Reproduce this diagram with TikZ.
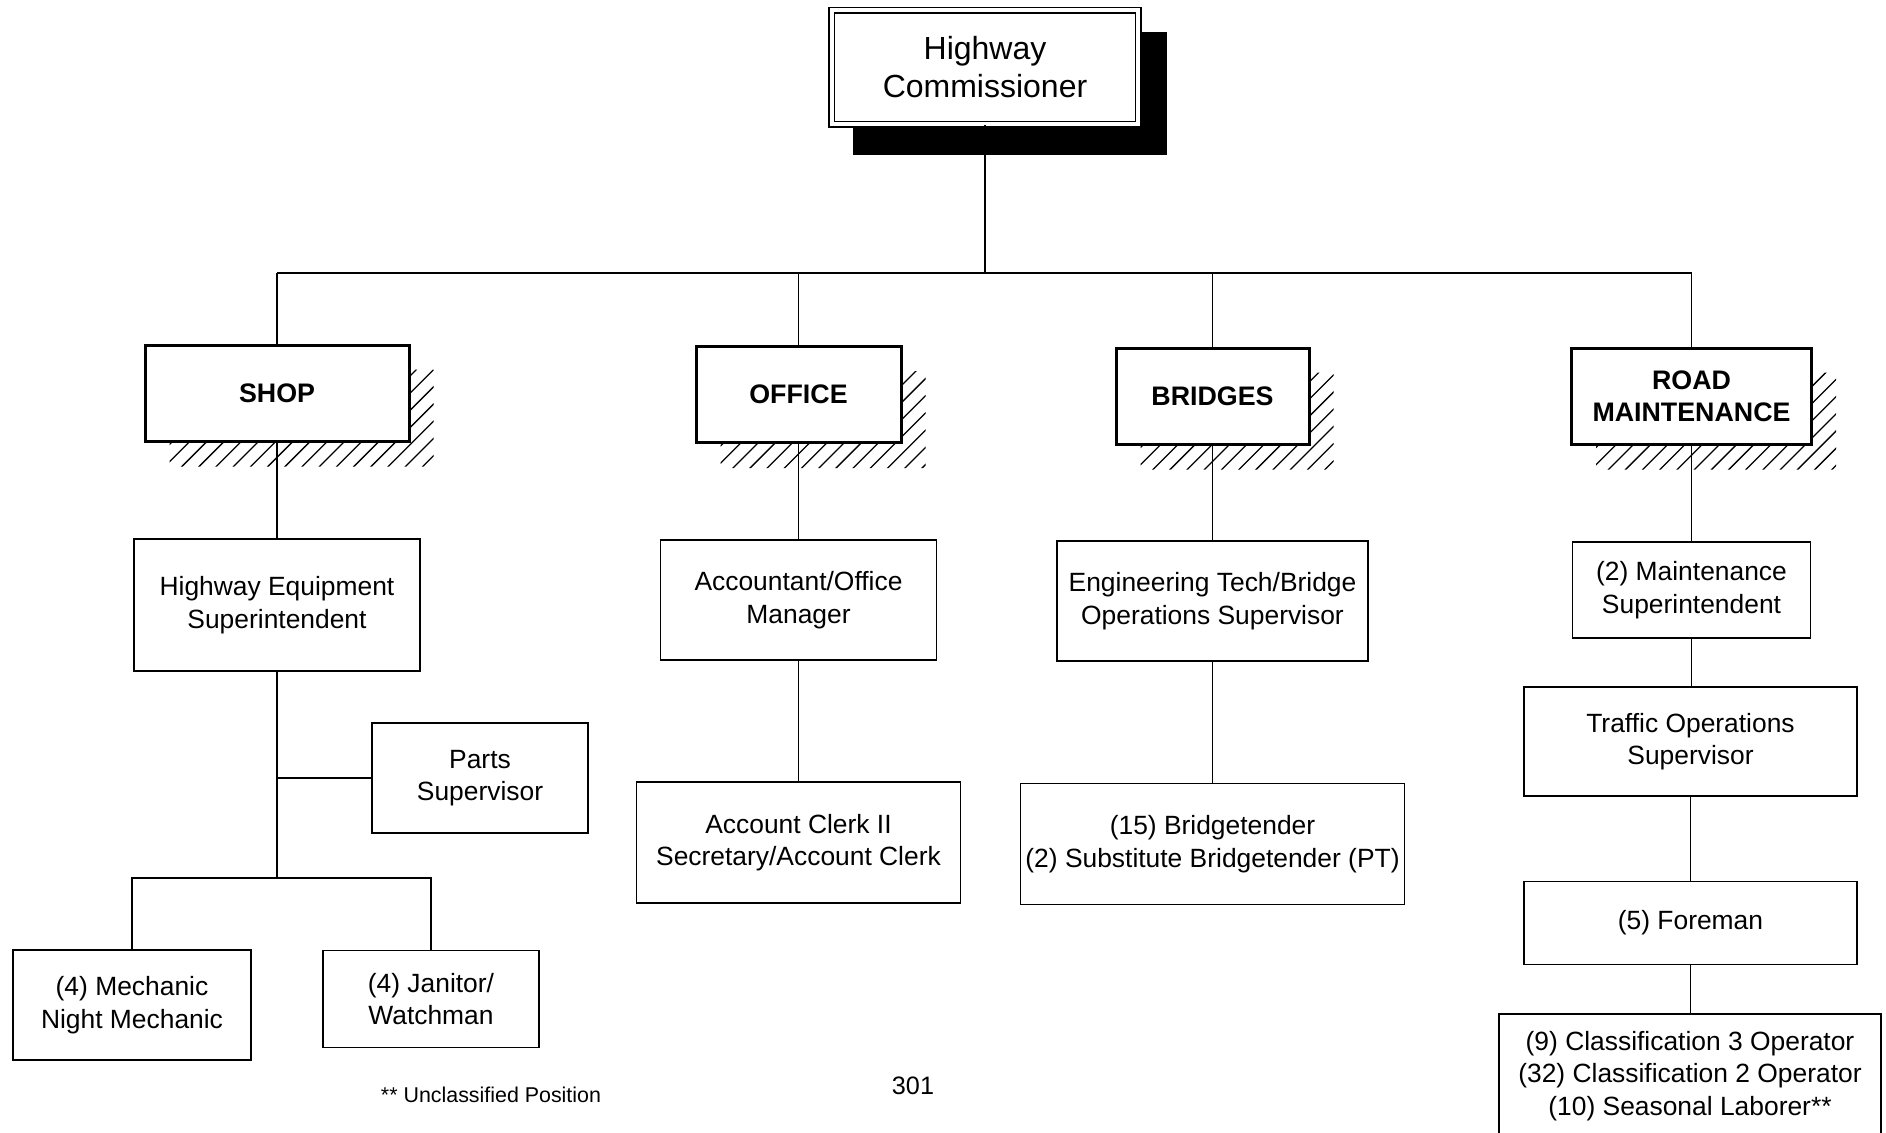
\documentclass[tikz,border=0pt]{standalone}
\usepackage{fontspec}
\setmainfont{Liberation Sans}
\usetikzlibrary{calc}
\newcommand{\boxfont}{\fontsize{13.2}{16.2}\selectfont}
\newcommand{\divfont}{\fontsize{13.4}{16.2}\selectfont\bfseries}
\newcommand{\commfont}{\fontsize{16}{19}\selectfont}
\newcommand{\hatchit}[1]{%
  \begin{scope}
    \clip ([xshift=13pt]#1.south west) -- (#1.south east) -- ([yshift=-13pt]#1.north east)
      -- ([xshift=11.5pt,yshift=-13pt]#1.north east) -- ([xshift=11.5pt,yshift=-12pt]#1.south east)
      -- ([xshift=13pt,yshift=-12pt]#1.south west) -- cycle;
    \foreach \h in {0,8.6,...,200}{\draw[hatchline] ([xshift=\h pt,yshift=-14pt]#1.south west) -- ++(80pt,80pt);}
  \end{scope}}
\begin{document}
\begin{tikzpicture}[x=0.5pt,y=-0.5pt,
  box/.style={draw,line width=0.9pt,fill=white,align=center,font=\boxfont,inner sep=0pt},
  divbox/.style={draw,line width=1.5pt,fill=white,align=center,font=\divfont,inner sep=0pt,minimum height=48pt},
  conn/.style={line width=0.7pt},
  hatchline/.style={line width=0.65pt}]
\useasboundingbox (0,0) rectangle (1886,1132);
\clip (0,0) rectangle (1886,1132);

% commissioner with shadow
\fill[black] (853,32) rectangle (1167,155);
\node[draw,double,double distance=2pt,line width=0.8pt,fill=white,align=center,font=\commfont,
      minimum width=153.4pt,minimum height=57pt,inner sep=0pt] (comm) at (985,67.4) {Highway\\Commissioner};

% divisions
\node[divbox,minimum width=132pt] (shop) at (277,393) {SHOP};
\node[divbox,minimum width=102.5pt] (office) at (798.5,394.5) {OFFICE};
\node[divbox,minimum width=96.5pt] (bridges) at (1212.5,396) {BRIDGES};
\node[divbox,minimum width=120pt] (road) at (1691.5,396) {ROAD\\MAINTENANCE};
\hatchit{shop}
\hatchit{office}
\hatchit{bridges}
\hatchit{road}

% second row
\node[box,minimum width=143pt,minimum height=66pt] (hes) at (277,605) {Highway Equipment\\Superintendent};
\node[box,minimum width=138pt,minimum height=60pt] (acct) at (798.5,600) {Accountant/Office\\Manager};
\node[box,minimum width=155.5pt,minimum height=60pt] (eng) at (1212.5,601) {Engineering Tech/Bridge\\Operations Supervisor};
\node[box,minimum width=119pt,minimum height=48pt] (maint) at (1691.5,590) {(2) Maintenance\\Superintendent};

% shop branch
\node[box,minimum width=108pt,minimum height=55pt] (parts) at (480,778) {Parts\\Supervisor};
\node[box,minimum width=119pt,minimum height=55pt] (mech) at (132,1005) {(4) Mechanic\\Night Mechanic};
\node[box,minimum width=108pt,minimum height=48.5pt] (jan) at (431,999) {(4) Janitor/\\Watchman};

% office / bridges
\node[box,minimum width=162pt,minimum height=60.5pt] (clerk) at (798.5,842.5) {Account Clerk II\\Secretary/Account Clerk};
\node[box,minimum width=192pt,minimum height=60.5pt] (bt) at (1212.5,844) {(15) Bridgetender\\(2) Substitute Bridgetender (PT)};

% road branch
\node[box,minimum width=166.5pt,minimum height=54.5pt] (traffic) at (1690.5,741.5) {Traffic Operations\\Supervisor};
\node[box,minimum width=166.5pt,minimum height=41.5pt] (foreman) at (1690.5,923) {(5) Foreman};
\node[box,minimum width=191pt,minimum height=62pt] (cls) at (1690,1076) {(9) Classification 3 Operator\\(32) Classification 2 Operator\\(10) Seasonal Laborer**};

% notes
\node[font=\fontsize{10.7}{13}\selectfont,inner sep=0pt] (note) at (491,1095) {** Unclassified Position};
\node[font=\fontsize{12.6}{15}\selectfont,inner sep=0pt] (pg) at (913,1086) {301};

% connectors
\coordinate (busy) at (0,273);
\coordinate (tj) at (277,878);
\draw[conn] (comm.south) -- (comm.south |- busy);
\draw[conn] (shop.north |- busy) -- (road.north |- busy);
\draw[conn] (shop.north) -- (shop.north |- busy);
\draw[conn] (office.north) -- (office.north |- busy);
\draw[conn] (bridges.north) -- (bridges.north |- busy);
\draw[conn] (road.north) -- (road.north |- busy);

\draw[conn] (shop.south) -- (hes.north);
\draw[conn] (hes.south) -- (tj);
\draw[line width=1pt] (parts.west) -- (parts.west -| hes.south);
\draw[conn] (mech.north) |- (tj) -| (jan.north);

\draw[conn] (office.south) -- (acct.north);
\draw[conn] (acct.south) -- (clerk.north);
\draw[conn] (bridges.south) -- (eng.north);
\draw[conn] (eng.south) -- (bt.north);
\draw[conn] (road.south) -- (maint.north);
\draw[conn] (maint.south) -- (maint.south |- traffic.north);
\draw[conn] (traffic.south) -- (traffic.south |- foreman.north);
\draw[conn] (foreman.south) -- (foreman.south |- cls.north);
\end{tikzpicture}
\end{document}
